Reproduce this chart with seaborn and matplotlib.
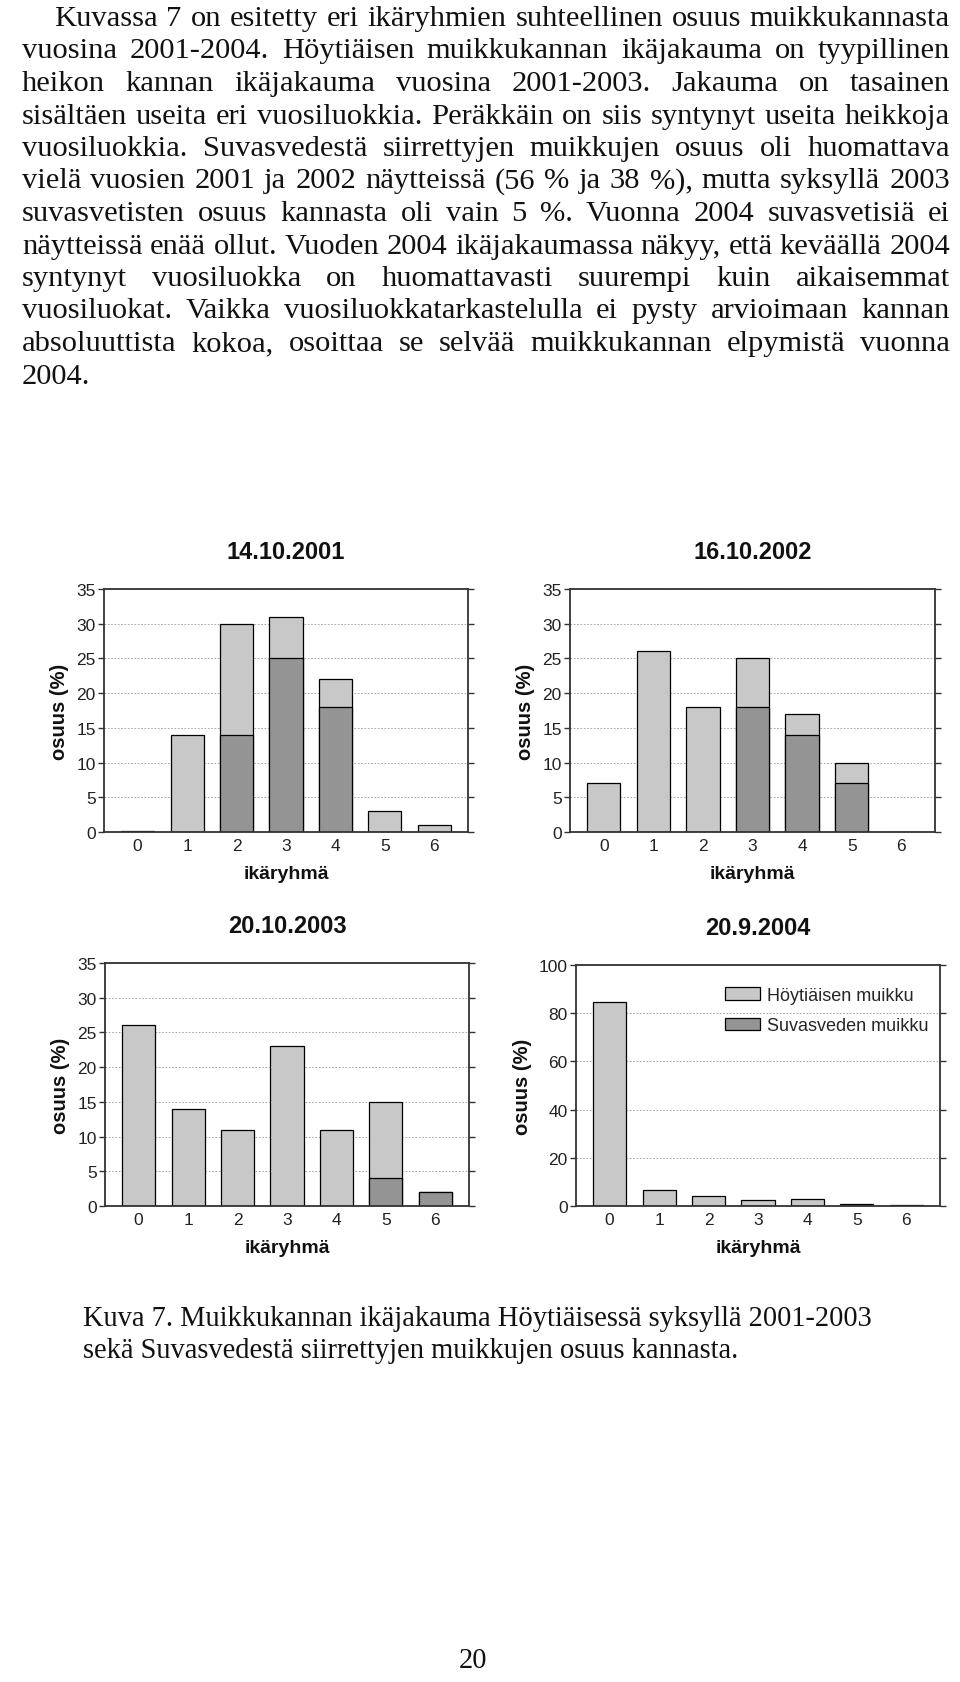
import numpy as np
import pandas as pd
import seaborn as sns
import matplotlib
matplotlib.use('Agg')
import matplotlib.pyplot as plt
import matplotlib.patches as mpatches

W, H = 960, 1683

ikaryhma = [0, 1, 2, 3, 4, 5, 6]
# koko palkki = osuus yhteensä, tumma osa = Suvasvedestä siirretyt
yht_2001 = [0.2, 14, 30, 31, 22, 3, 1]
suv_2001 = [0, 0, 14, 25, 18, 0, 0]
yht_2002 = [7, 26, 18, 25, 17, 10, 0]
suv_2002 = [0, 0, 0, 18, 14, 7, 0]
yht_2003 = [26, 14, 11, 23, 11, 15, 2]
suv_2003 = [0, 0, 0, 0, 0, 4, 2]
yht_2004 = [84.5, 6.6, 4.1, 2.5, 2.7, 0.8, 0.3]
suv_2004 = [0, 0, 0, 0, 0, 0, 0]

otsikot = ['14.10.2001', '16.10.2002', '20.10.2003', '20.9.2004']
ymax = [35, 35, 35, 100]
yvali = [5, 5, 5, 20]
sarjat = ['Höytiäisen muikku', 'Suvasveden muikku']

kappale = [
    "Kuvassa 7 on esitetty eri ikäryhmien suhteellinen osuus muikkukannasta",
    "vuosina 2001-2004. Höytiäisen muikkukannan ikäjakauma on tyypillinen",
    "heikon kannan ikäjakauma vuosina 2001-2003. Jakauma on tasainen",
    "sisältäen useita eri vuosiluokkia. Peräkkäin on siis syntynyt useita heikkoja",
    "vuosiluokkia. Suvasvedestä siirrettyjen muikkujen osuus oli huomattava",
    "vielä vuosien 2001 ja 2002 näytteissä (56 % ja 38 %), mutta syksyllä 2003",
    "suvasvetisten osuus kannasta oli vain 5 %. Vuonna 2004 suvasvetisiä ei",
    "näytteissä enää ollut. Vuoden 2004 ikäjakaumassa näkyy, että keväällä 2004",
    "syntynyt vuosiluokka on huomattavasti suurempi kuin aikaisemmat",
    "vuosiluokat. Vaikka vuosiluokkatarkastelulla ei pysty arvioimaan kannan",
    "absoluuttista kokoa, osoittaa se selvää muikkukannan elpymistä vuonna",
    "2004.",
]
kuvateksti = [
    "Kuva 7. Muikkukannan ikäjakauma Höytiäisessä syksyllä 2001-2003",
    "sekä Suvasvedestä siirrettyjen muikkujen osuus kannasta.",
]

VAALEA = '#c8c8c8'
TUMMA = '#949494'
SERIF = ['Liberation Serif', 'DejaVu Serif']
SANS = ['Liberation Sans', 'DejaVu Sans']

sns.set_theme(style='white')
plt.rcParams['font.family'] = SANS

fig = plt.figure(figsize=(W / 100, H / 100), dpi=100)
fig.patch.set_facecolor('white')

# kuvaajien paikat pikseleinä: vasen, ylä, oikea, ala
laatikot = [(104, 590, 468, 833), (570, 590, 935, 833),
            (105, 964, 469, 1207), (576, 966, 940, 1207)]
data = [(yht_2001, suv_2001), (yht_2002, suv_2002),
        (yht_2003, suv_2003), (yht_2004, suv_2004)]

for i, ((x0, y0, x1, y1), (yht, suv)) in enumerate(zip(laatikot, data)):
    ax = fig.add_axes([x0 / W, 1 - y1 / H, (x1 - x0) / W, (y1 - y0) / H])
    df = pd.DataFrame({'ika': ikaryhma, 'yht': yht, 'suv': suv})
    sns.barplot(data=df, x='ika', y='yht', color=VAALEA, saturation=1,
                edgecolor='black', linewidth=0.9, width=0.67, errorbar=None, ax=ax)
    sns.barplot(data=df, x='ika', y='suv', color=TUMMA, saturation=1,
                edgecolor='black', linewidth=0.9, width=0.67, errorbar=None, ax=ax)
    ax.set_xlim(-0.68, 6.68)
    ax.set_ylim(0, ymax[i])
    ax.set_yticks(np.arange(0, ymax[i] + 1, yvali[i]))
    ax.set_axisbelow(True)
    ax.yaxis.grid(True, color='#9a9a9a', linestyle=(0, (2, 2)), linewidth=0.6)
    for s in ax.spines.values():
        s.set_visible(True)
        s.set_color('#333333')
        s.set_linewidth(1.3)
    ax.tick_params(axis='y', which='both', left=True, right=True, direction='out',
                   length=4.5, width=1, color='#333333', labelsize=12.5, pad=1.5,
                   labelcolor='#222222')
    ax.tick_params(axis='x', length=0, labelsize=12.5, pad=4, labelcolor='#222222')
    ax.set_title(otsikot[i], fontsize=17, fontweight='bold', pad=22, color='#111111')
    ax.set_xlabel('ikäryhmä', fontsize=14, fontweight='bold', labelpad=9, color='#111111')
    ax.set_ylabel('osuus (%)', fontsize=14.5, fontweight='bold', labelpad=5, color='#111111')
    if i == 3:
        kahvat = [mpatches.Patch(facecolor=VAALEA, edgecolor='black', linewidth=0.9),
                  mpatches.Patch(facecolor=TUMMA, edgecolor='black', linewidth=0.9)]
        ax.legend(kahvat, sarjat, loc='upper left', bbox_to_anchor=(0.409, 0.91),
                  frameon=False, fontsize=13, handlelength=1.95, handleheight=0.7,
                  handletextpad=0.4, labelspacing=0.75, borderpad=0, borderaxespad=0)

rend = fig.canvas.get_renderer()


def leveys(teksti, koko):
    t = fig.text(0, 0, teksti, fontsize=koko, family=SERIF)
    w = t.get_window_extent(rend).width
    t.remove()
    return w


def rivi(teksti, x0, x1, y, koko, tasaa=True):
    sanat = teksti.split()
    tekstit = [fig.text(0, 1 - y / H, s, fontsize=koko, family=SERIF,
                        va='baseline', color='#111111') for s in sanat]
    lev = [t.get_window_extent(rend).width for t in tekstit]
    if tasaa and len(sanat) > 1:
        vali = (x1 - x0 - sum(lev)) / (len(sanat) - 1)
    else:
        vali = koko * 100 / 72 * 0.25
    x = x0
    for t, l in zip(tekstit, lev):
        t.set_x(x / W)
        x += l + vali


VASEN, OIKEA, SISENNYS = 22, 950, 54
# fonttikoko niin, että tiukin rivi mahtuu leveyteen
suhteet = []
for k, r in enumerate(kappale[:-1]):
    x0 = SISENNYS if k == 0 else VASEN
    suhteet.append((OIKEA - x0) / leveys(r, 20))
pkoko = 20 * min(suhteet)

for k, r in enumerate(kappale):
    x0 = SISENNYS if k == 0 else VASEN
    rivi(r, x0, OIKEA, 26 + 32.5 * k, pkoko, tasaa=(k < len(kappale) - 1))

kkoko = 20 * 793 / leveys(kuvateksti[0], 20)
for k, r in enumerate(kuvateksti):
    fig.text(83 / W, 1 - (1326 + 32 * k) / H, r, fontsize=kkoko, family=SERIF,
             va='baseline', color='#111111')

fig.text(473 / W, 1 - 1668 / H, '20', fontsize=kkoko, family=SERIF,
         va='baseline', ha='center', color='#111111')

fig.savefig('out.png', dpi=100, facecolor='white')
